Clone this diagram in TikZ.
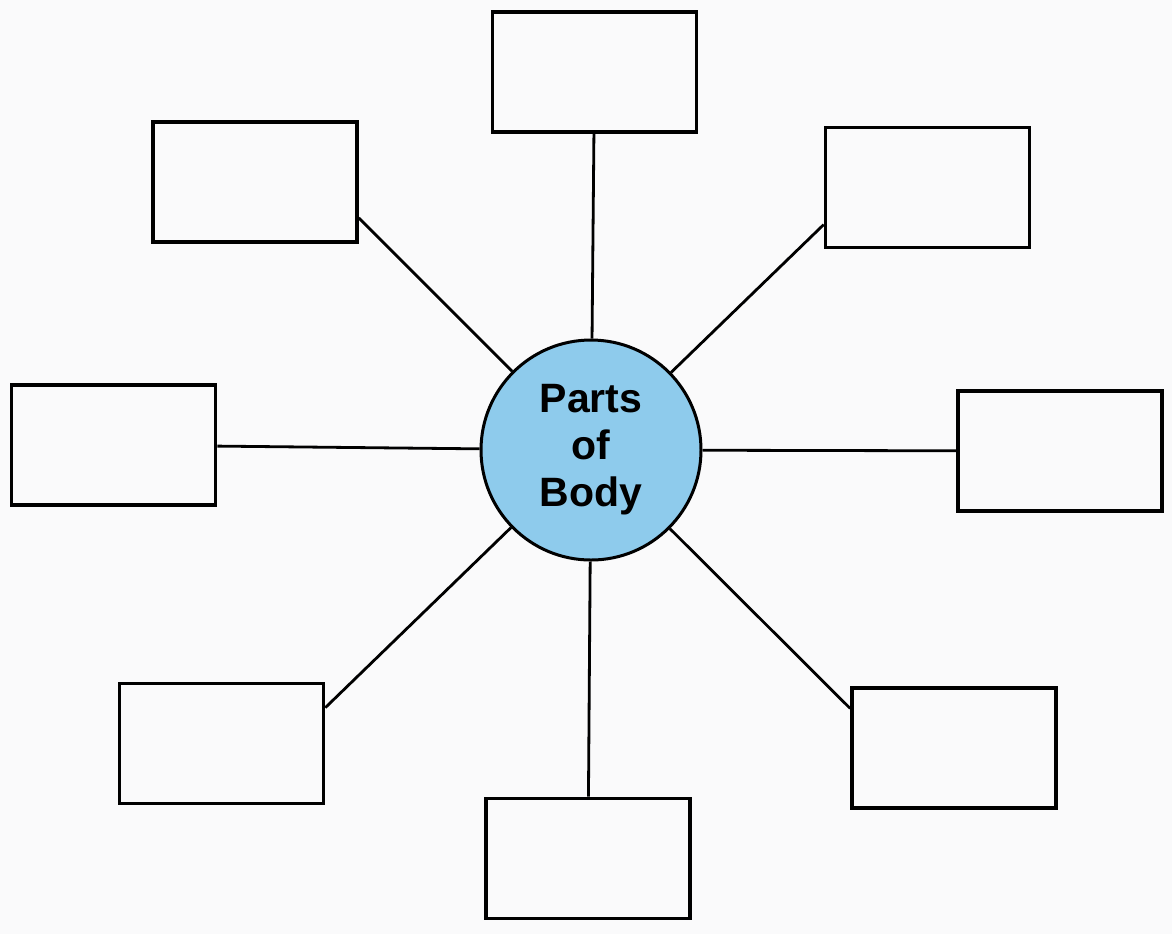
\documentclass[tikz,border=0pt]{standalone}
\usepackage{fontspec}
\setmainfont{Liberation Sans}
\usetikzlibrary{calc}
\definecolor{bgcol}{HTML}{FAFAFB}
\definecolor{hubblue}{HTML}{8ECBEC}
\tikzset{
  blank/.style={draw=black, line width=1.8pt, fill=bgcol, rectangle, inner sep=0pt,
    minimum width=102pt, minimum height=60pt},
  hub/.style={draw=black, line width=1.5pt, fill=hubblue, circle, inner sep=0pt,
    minimum size=110pt, align=center, font=\fontsize{20.5}{23.5}\selectfont\bfseries},
  link/.style={draw=black, line width=1.4pt}
}
\begin{document}
\begin{tikzpicture}[x=0.5pt,y=-0.5pt]
\fill[bgcol] (0,0) rectangle (1172,934);
\useasboundingbox (0,0) rectangle (1172,934);
\node[hub] (c) at (591,450) {Parts\\of\\Body};
\node[blank] (tl) at (255,182) {};
\node[blank] (t) at (594.5,72) {};
\node[blank] (tr) at (927.5,187.5) {};
\node[blank] (l) at (113.5,445) {};
\node[blank] (r) at (1060,451) {};
\node[blank] (bl) at (221.5,743.5) {};
\node[blank] (b) at (588,858.5) {};
\node[blank] (br) at (954,748) {};
\coordinate (tlp) at ($(tl.north east)!0.79!(tl.south east)$);
\coordinate (trp) at ($(tr.north west)!0.80!(tr.south west)$);
\coordinate (blp) at ($(bl.north east)!0.21!(bl.south east)$);
\coordinate (brp) at ($(br.north west)!0.18!(br.south west)$);
\draw[link] (c) -- (tlp);
\draw[link] (c) -- (trp);
\draw[link] (c) -- (blp);
\draw[link] (c) -- (brp);
\draw[link] (c) -- (t);
\draw[link] (c) -- (b);
\draw[link] (c) -- (l);
\draw[link] (c) -- (r);
\end{tikzpicture}
\end{document}
